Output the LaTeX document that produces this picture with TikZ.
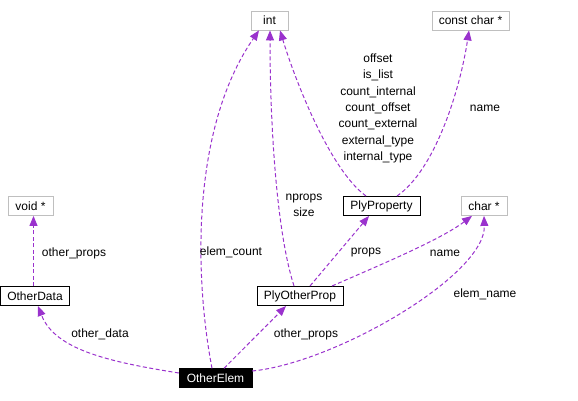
\documentclass[tikz,border=0pt]{standalone}
\usepackage{fontspec}
\setmainfont{Liberation Sans}
\usetikzlibrary{arrows.meta}
\definecolor{edgec}{HTML}{9A32CD}
\definecolor{grayb}{HTML}{BFBFBF}
\begin{document}
\begin{tikzpicture}[x=1pt,y=1pt,
  every node/.style={font=\fontsize{12}{16.3}\selectfont},
  cls/.style={draw=black,line width=1pt,minimum height=19pt,inner sep=0pt,fill=white},
  ext/.style={draw=grayb,line width=0.8pt,minimum height=19pt,inner sep=0pt,fill=white},
  cur/.style={draw=black,fill=black,text=white,minimum height=19pt,inner sep=0pt},
  rel/.style={draw=edgec,line width=1pt,dash pattern=on 4pt off 2.5pt,
    -{Triangle[length=10pt,width=8pt,fill=edgec]}},
  lbl/.style={inner sep=0pt,align=center}]
\useasboundingbox (0,0) rectangle (578,400);
% nodes
\node[ext,minimum width=37pt] (int) at (269.5,379.5) {int};
\node[ext,minimum width=77pt] (cc) at (470.5,379.5) {const char *};
\node[ext,minimum width=45pt] (vp) at (30.5,194) {void *};
\node[cls,minimum width=69pt] (od) at (35,104) {OtherData};
\node[cls,minimum width=77pt] (pp) at (381.5,194) {PlyProperty};
\node[ext,minimum width=46pt] (cp) at (484,194) {char *};
\node[cls,minimum width=86pt] (pop) at (300,104) {PlyOtherProp};
\node[cur,minimum width=73pt] (oe) at (215.5,22) {OtherElem};
% edges
\draw[rel] ([xshift=-3.5pt]oe.north) .. controls (195,120) and (190,270) .. ([xshift=-10.5pt]int.south);
\draw[rel] ([xshift=-6pt]pop.north) .. controls (276,170) and (270,280) .. ([xshift=0.5pt]int.south);
\draw[rel] ([xshift=-15.5pt]pp.north) .. controls (330,230) and (295,320) .. ([xshift=10.5pt]int.south);
\draw[rel] ([xshift=15.5pt]pp.north) .. controls (435,230) and (460,310) .. ([xshift=-1.5pt]cc.south);
\draw[rel] ([xshift=-1.5pt]od.north) -- ([xshift=3pt]vp.south);
\draw[rel] ([yshift=5pt]oe.west) .. controls (110,38) and (55,50) .. ([xshift=3pt]od.south);
\draw[rel] ([xshift=8.5pt]oe.north) -- ([xshift=-14pt]pop.south);
\draw[rel] ([xshift=10pt]pop.north) -- ([xshift=-12.5pt]pp.south);
\draw[rel] ([xshift=32pt]pop.north) .. controls (380,135) and (440,160) .. ([xshift=-12pt]cp.south);
\draw[rel] ([yshift=7pt]oe.east) .. controls (335,37) and (486,125) .. (cp.south);
% labels
\node[lbl] (l1) at (231,148) {elem\_count};
\node[lbl] (l2) at (304,195) {nprops\\size};
\node[lbl] (l3) at (378,291.5) {offset\\is\_list\\count\_internal\\count\_offset\\count\_external\\external\_type\\internal\_type};
\node[lbl] (l4) at (485,292) {name};
\node[lbl] (l5) at (74,147) {other\_props};
\node[lbl] (l6) at (100,66) {other\_data};
\node[lbl] (l7) at (306,66) {other\_props};
\node[lbl] (l8) at (366,147) {props};
\node[lbl] (l9) at (445,147) {name};
\node[lbl] (l10) at (485,106) {elem\_name};
\end{tikzpicture}
\end{document}
